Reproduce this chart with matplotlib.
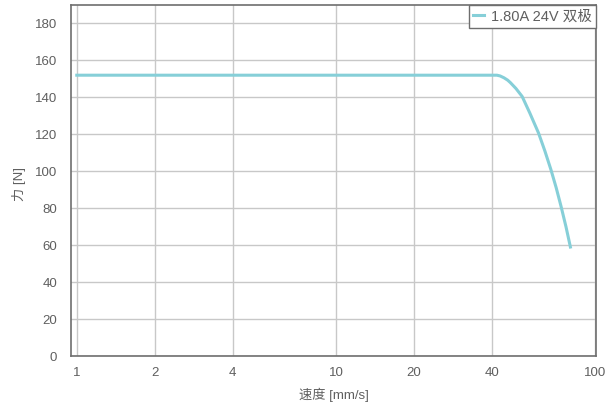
import matplotlib
matplotlib.use("Agg")
import matplotlib.pyplot as plt
from matplotlib.ticker import FixedLocator, FixedFormatter, NullLocator

plt.rcParams["font.family"] = ["Liberation Sans", "Noto Sans CJK SC", "DejaVu Sans"]

# 速度-力 曲线数据
speed = [1, 10, 30, 40, 41.8, 43.0, 44.5, 46.0, 47.1, 49.5, 52.3, 56.0, 60.5,
         64.0, 67.5, 70.8, 73.9, 77.2, 80.3]
force = [152, 152, 152, 152, 152, 151.6, 150.6, 149.3, 148, 144.8, 140.5, 131.5, 120.7,
         111, 101, 91, 81, 70, 59]
series_label = "1.80A 24V 双极"

xticks = [1, 2, 4, 10, 20, 40, 100]
yticks = list(range(0, 181, 20))

text_c = "#5f5f5f"
grid_c = "#c8c8c8"
frame_c = "#6e6e6e"

fig = plt.figure(figsize=(6.10, 4.03), dpi=100)
ax = fig.add_axes([0.1164, 0.1166, 0.861, 0.871])

ax.plot(speed, force, color="#86cfd8", lw=2.2, label=series_label, zorder=3,
        solid_joinstyle="round")

ax.set_xscale("log")
ax.set_xlim(0.95, 101)
ax.set_ylim(0, 190)
ax.xaxis.set_major_locator(FixedLocator(xticks))
ax.xaxis.set_major_formatter(FixedFormatter([str(t) for t in xticks]))
ax.xaxis.set_minor_locator(NullLocator())
ax.set_yticks(yticks)

ax.grid(True, color=grid_c, lw=1)
ax.set_axisbelow(True)
ax.tick_params(length=0, labelsize=9.5, colors=text_c)
ax.tick_params(axis="x", pad=8)
ax.tick_params(axis="y", pad=10)
for s in ax.spines.values():
    s.set_color(frame_c)
    s.set_linewidth(1.2)

ax.set_xlabel("速度 [mm/s]", fontsize=9.5, color=text_c, labelpad=6)
ax.set_ylabel("力 [N]", fontsize=9.5, color=text_c)
ax.yaxis.set_label_coords(-0.086, 0.49)

leg = ax.legend(loc="upper right", fontsize=10.5, frameon=True, fancybox=False,
                borderaxespad=0, handlelength=0.7, handletextpad=0.5,
                borderpad=0.3)
leg.get_frame().set_edgecolor(frame_c)
leg.get_frame().set_linewidth(1)
leg.get_frame().set_alpha(1)
for t in leg.get_texts():
    t.set_color(text_c)

fig.savefig("out.png", dpi=100)
